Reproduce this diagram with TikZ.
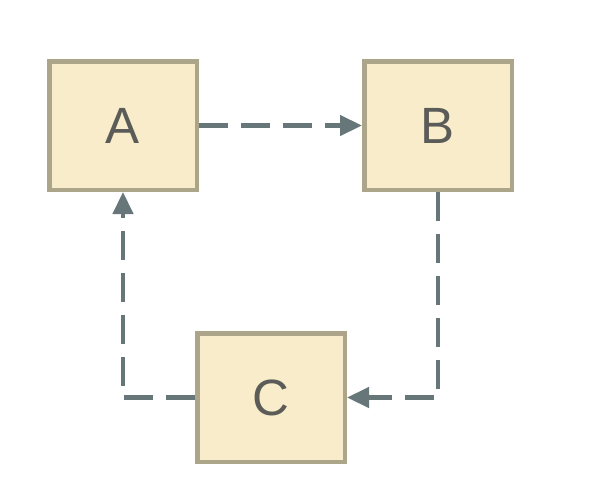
\documentclass[tikz,border=0pt]{standalone}
\usepackage{fontspec}
\setmainfont{Liberation Sans}
\usetikzlibrary{arrows.meta}
\definecolor{boxfill}{HTML}{F8ECCB}
\definecolor{boxline}{HTML}{ADA58A}
\definecolor{linkcol}{HTML}{677679}
\definecolor{labelcol}{HTML}{5B5B58}
\begin{document}
\begin{tikzpicture}[x=1pt,y=-1pt,
  block/.style={draw=boxline, fill=boxfill, line width=4.5pt, inner sep=0pt,
    minimum width=147.5pt, minimum height=128.5pt,
    font=\fontsize{51}{51}\selectfont, text=labelcol},
  link/.style={draw=linkcol, line width=4.5pt, dash pattern=on 29pt off 13pt,
    -{Triangle[length=22pt,width=20pt]}}]
  \fill[white] (0,0) rectangle (608,496);
  \useasboundingbox (0,0) rectangle (608,496);
  \node[block] (A) at (123,125.5) {A};
  \node[block] (B) at (438,125.5) {B};
  \node[block] (C) at (271,397.5) {C};
  \draw[link] (A) -- (B);
  \draw[link] (B) |- (C);
  \draw[link] (C) -| (A);
\end{tikzpicture}
\end{document}
